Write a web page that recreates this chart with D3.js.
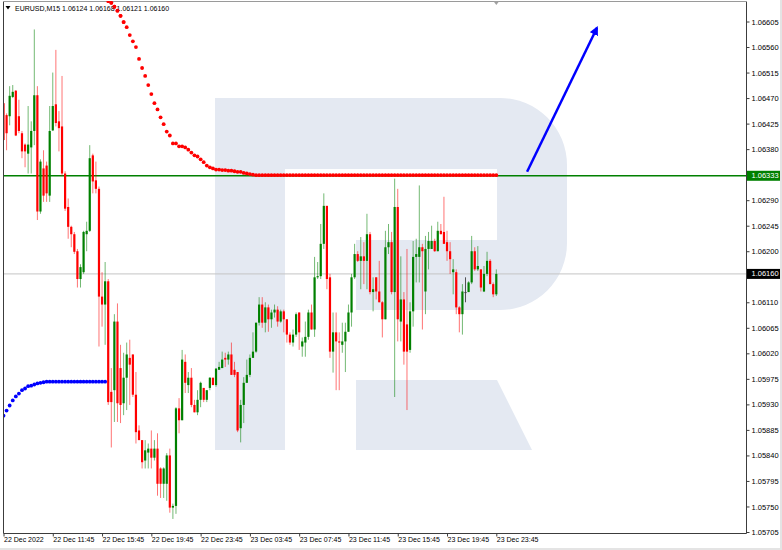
<!DOCTYPE html>
<html><head><meta charset="utf-8">
<script src="https://cdn.jsdelivr.net/npm/d3@7"></script>
<style>html,body{margin:0;padding:0;background:#fff;overflow:hidden}</style>
</head><body><svg id="c" width="782" height="550"></svg>
<script>
const symbol = "EURUSD,M15";
const tickLabels = ["22 Dec 2022","22 Dec 11:45","22 Dec 15:45","22 Dec 19:45","22 Dec 23:45","23 Dec 03:45","23 Dec 07:45","23 Dec 11:45","23 Dec 15:45","23 Dec 19:45","23 Dec 23:45"];
const tickIndex = [0,16,32,48,64,80,96,112,128,144,160];
const priceTicks = [1.06605,1.06560,1.06515,1.06470,1.06425,1.06380,1.06335,1.06290,1.06245,1.06200,1.06155,1.06110,1.06065,1.06020,1.05975,1.05930,1.05885,1.05840,1.05795,1.05750,1.05705];

const open = [
1.06461,1.06440,1.06438,1.06472,1.06483,1.06438,1.06408,1.06388,1.06372,1.06383,
1.06412,1.06475,1.06270,1.06346,1.06351,1.06298,1.06413,1.06459,1.06429,1.06420,
1.06337,1.06278,1.06243,1.06230,1.06200,1.06151,1.06163,1.06230,1.06236,1.06369,
1.06325,1.06310,1.06120,1.06106,1.06147,1.05952,1.05955,1.06076,1.05994,1.05932,
1.05977,1.06012,1.06018,1.05947,1.05884,1.05867,1.05831,1.05845,1.05852,1.05836,
1.05852,1.05817,1.05790,1.05790,1.05840,1.05748,1.05751,1.05923,1.05902,1.06005,
1.05964,1.05977,1.05929,1.05916,1.05938,1.05959,1.05938,1.05959,1.05977,1.05964,
1.05991,1.05994,1.06012,1.06009,1.06018,1.05991,1.05987,1.05888,1.05929,1.05968,
1.05982,1.06012,1.06023,1.06074,1.06106,1.06074,1.06101,1.06080,1.06092,1.06097,
1.06076,1.06094,1.06080,1.06053,1.06039,1.06053,1.06092,1.06032,1.06039,1.06049,
1.06092,1.06062,1.06154,1.06156,1.06213,1.06280,1.06154,1.06023,1.06057,1.06041,
1.06035,1.06041,1.06058,1.06092,1.06154,1.06195,1.06183,1.06191,1.06183,1.06230,
1.06128,1.06154,1.06129,1.06110,1.06080,1.06207,1.06216,1.06128,1.06278,1.06076,
1.06115,1.06071,1.06026,1.06094,1.06190,1.06190,1.06207,1.06129,1.06204,1.06204,
1.06218,1.06200,1.06236,1.06234,1.06216,1.06200,1.06163,1.06163,1.06101,1.06089,
1.06128,1.06128,1.06145,1.06200,1.06168,1.06168,1.06129,1.06160,1.06183,1.06142,
1.06124];
const high = [
1.06470,1.06443,1.06491,1.06493,1.06484,1.06467,1.06412,1.06390,1.06456,1.06429,
1.06591,1.06491,1.06362,1.06378,1.06358,1.06456,1.06515,1.06555,1.06447,1.06509,
1.06341,1.06293,1.06245,1.06234,1.06204,1.06177,1.06236,1.06252,1.06387,1.06372,
1.06358,1.06314,1.06163,1.06181,1.06151,1.05994,1.06089,1.06108,1.06035,1.06021,
1.06039,1.06044,1.06018,1.05987,1.05893,1.05867,1.05867,1.05861,1.05884,1.05867,
1.05879,1.05819,1.05819,1.05844,1.05852,1.05755,1.05925,1.05941,1.06026,1.06018,
1.05987,1.05994,1.05938,1.05955,1.05970,1.05959,1.05955,1.05978,1.05977,1.05994,
1.06005,1.06023,1.06021,1.06023,1.06039,1.06005,1.05987,1.05938,1.05978,1.06009,
1.06018,1.06057,1.06074,1.06119,1.06119,1.06110,1.06106,1.06097,1.06106,1.06103,
1.06097,1.06097,1.06080,1.06057,1.06062,1.06092,1.06092,1.06048,1.06076,1.06097,
1.06106,1.06190,1.06181,1.06248,1.06302,1.06280,1.06160,1.06092,1.06092,1.06057,
1.06074,1.06074,1.06106,1.06160,1.06213,1.06200,1.06225,1.06216,1.06266,1.06234,
1.06154,1.06154,1.06183,1.06112,1.06236,1.06248,1.06234,1.06328,1.06310,1.06191,
1.06128,1.06204,1.06110,1.06218,1.06222,1.06316,1.06213,1.06227,1.06234,1.06245,
1.06222,1.06252,1.06248,1.06296,1.06236,1.06216,1.06186,1.06168,1.06103,1.06142,
1.06154,1.06147,1.06227,1.06207,1.06209,1.06168,1.06174,1.06199,1.06186,1.06145,
1.06168];
const low = [
1.06390,1.06378,1.06422,1.06470,1.06403,1.06408,1.06364,1.06348,1.06337,1.06337,
1.06387,1.06255,1.06266,1.06287,1.06287,1.06287,1.06412,1.06420,1.06376,1.06333,
1.06271,1.06222,1.06207,1.06195,1.06136,1.06136,1.06160,1.06200,1.06234,1.06302,
1.06302,1.06032,1.06067,1.06035,1.05929,1.05854,1.05899,1.05899,1.05897,1.05911,
1.05920,1.05929,1.05943,1.05861,1.05867,1.05817,1.05817,1.05817,1.05817,1.05831,
1.05769,1.05765,1.05765,1.05760,1.05739,1.05728,1.05737,1.05879,1.05902,1.05950,
1.05950,1.05925,1.05916,1.05911,1.05925,1.05934,1.05934,1.05955,1.05964,1.05961,
1.05991,1.05994,1.05996,1.06000,1.05982,1.05978,1.05881,1.05863,1.05897,1.05968,
1.05978,1.06012,1.06021,1.06069,1.06065,1.06057,1.06058,1.06065,1.06083,1.06067,
1.06074,1.06057,1.06039,1.06035,1.06032,1.06049,1.06026,1.06014,1.06014,1.06044,
1.06062,1.06049,1.06151,1.06151,1.06204,1.06133,1.06012,1.05986,1.05955,1.05955,
1.06021,1.05987,1.06058,1.06067,1.06151,1.06181,1.06133,1.06142,1.06133,1.06124,
1.06094,1.06115,1.06110,1.06048,1.06080,1.06195,1.06124,1.05943,1.06041,1.06041,
1.06000,1.05920,1.06021,1.06067,1.06145,1.06145,1.06062,1.06089,1.06168,1.06204,
1.06199,1.06200,1.06230,1.06213,1.06183,1.06160,1.06124,1.06089,1.06057,1.06053,
1.06110,1.06128,1.06142,1.06165,1.06165,1.06129,1.06128,1.06156,1.06142,1.06119,
1.06121];
const close = [
1.06396,1.06408,1.06474,1.06481,1.06404,1.06412,1.06376,1.06376,1.06388,1.06412,
1.06475,1.06270,1.06358,1.06298,1.06302,1.06412,1.06456,1.06426,1.06417,1.06337,
1.06275,1.06243,1.06230,1.06199,1.06151,1.06172,1.06234,1.06236,1.06364,1.06323,
1.06310,1.06120,1.06106,1.06147,1.05934,1.05934,1.06076,1.05932,1.05929,1.05977,
1.06018,1.06000,1.05947,1.05881,1.05867,1.05828,1.05849,1.05852,1.05836,1.05852,
1.05790,1.05790,1.05817,1.05840,1.05748,1.05751,1.05923,1.05902,1.06009,1.05968,
1.05977,1.05929,1.05916,1.05938,1.05968,1.05938,1.05955,1.05977,1.05964,1.05993,
1.05996,1.06009,1.06009,1.06018,1.05982,1.05982,1.05884,1.05929,1.05968,1.05982,
1.06012,1.06023,1.06074,1.06106,1.06074,1.06101,1.06080,1.06092,1.06097,1.06076,
1.06094,1.06080,1.06053,1.06039,1.06053,1.06089,1.06057,1.06041,1.06049,1.06092,
1.06062,1.06154,1.06156,1.06213,1.06280,1.06151,1.06023,1.06057,1.06041,1.06039,
1.06041,1.06058,1.06092,1.06154,1.06195,1.06183,1.06191,1.06183,1.06230,1.06128,
1.06133,1.06129,1.06110,1.06080,1.06207,1.06216,1.06128,1.06278,1.06080,1.06115,
1.06023,1.06023,1.06094,1.06190,1.06195,1.06207,1.06200,1.06204,1.06218,1.06218,
1.06200,1.06236,1.06230,1.06213,1.06200,1.06186,1.06168,1.06101,1.06089,1.06129,
1.06128,1.06145,1.06200,1.06168,1.06174,1.06136,1.06160,1.06183,1.06142,1.06124,
1.06160];

// trailing-stop dots: blue below price for bars 0..33, red above price for bars 34..160
const sarBlueStart = 0;
const sarBlue = [
1.05910,1.05919,1.05928,1.05937,1.05944,1.05949,1.05955,1.05958,1.05962,1.05963,
1.05965,1.05967,1.05968,1.05969,1.05970,1.05970,1.05970,1.05970,1.05970,1.05970,
1.05970,1.05970,1.05970,1.05970,1.05970,1.05970,1.05970,1.05970,1.05970,1.05970,
1.05970,1.05970,1.05970,1.05970];
const sarRedStart = 34;
const sarRed = [
1.06641,1.06638,1.06631,1.06624,1.06615,1.06604,1.06595,1.06581,1.06570,1.06560,
1.06539,1.06523,1.06509,1.06493,1.06477,1.06461,1.06450,1.06436,1.06424,1.06411,
1.06404,1.06390,1.06390,1.06385,1.06385,1.06383,1.06379,1.06374,1.06369,1.06367,
1.06362,1.06357,1.06351,1.06348,1.06346,1.06344,1.06344,1.06343,1.06343,1.06342,
1.06342,1.06341,1.06340,1.06340,1.06338,1.06337,1.06336,1.06335,
1.06334,1.06334,1.06334,1.06334,1.06334,1.06334,1.06334,1.06334,1.06334,1.06334,
1.06334,1.06334,1.06334,1.06334,1.06334,1.06334,1.06334,1.06334,1.06334,1.06334,
1.06334,1.06334,1.06334,1.06334,1.06334,1.06334,1.06334,1.06334,1.06334,1.06334,
1.06334,1.06334,1.06334,1.06334,1.06334,1.06334,1.06334,1.06334,1.06334,1.06334,
1.06334,1.06334,1.06334,1.06334,1.06334,1.06334,1.06334,1.06334,1.06334,1.06334,
1.06334,1.06334,1.06334,1.06334,1.06334,1.06334,1.06334,1.06334,1.06334,1.06334,
1.06334,1.06334,1.06334,1.06334,1.06334,1.06334,1.06334,1.06334,1.06334,1.06334,
1.06334,1.06334,1.06334,1.06334,1.06334,1.06334,1.06334,1.06334,1.06334];

const levelLine = 1.06333;   // green horizontal line
const bidLevel = 1.06160;    // current price line
const arrowFrom = [170, 1.06340];
const arrowTo = [192.7, 1.06594];

// ---------- drawing ----------
const svg = d3.select("#c");
const L = 3, R = 746, T = 1, B = 533;
const x = d3.scaleLinear().domain([0, 160]).range([3.5, 496.3]);
const y = d3.scaleLinear().domain([1.05705, 1.06605]).range([532, 21.5]);
const font = "'Liberation Sans', Arial, sans-serif";

svg.append("rect").attr("width", 782).attr("height", 550).attr("fill", "#fff");
// window edges
svg.append("rect").attr("x", 780).attr("y", 0).attr("width", 2).attr("height", 550).attr("fill", "#e4e4e4");
svg.append("rect").attr("x", 0).attr("y", 548).attr("width", 782).attr("height", 2).attr("fill", "#e4e4e4");

const defs = svg.append("defs");
defs.append("clipPath").attr("id", "plot").append("rect")
  .attr("x", L).attr("y", T).attr("width", R - L).attr("height", B - T);
defs.append("marker").attr("id", "ah").attr("viewBox", "0 0 10 10")
  .attr("refX", 8).attr("refY", 5).attr("markerWidth", 3.6).attr("markerHeight", 3.6)
  .attr("orient", "auto").append("path").attr("d", "M0,0L10,5L0,10Z").attr("fill", "#0000ff");

const g = svg.append("g").attr("clip-path", "url(#plot)");

// watermark logo
g.append("path")
  .attr("d", "M215,98H500A67,67 0 0 1 567,165V243A67,67 0 0 1 500,310H356V240H497V169H285V450H215Z M356,380H497L532,450H356Z")
  .attr("fill", "#e4e9f2");

// bid line
g.append("line").attr("x1", L).attr("x2", R).attr("y1", y(bidLevel)).attr("y2", y(bidLevel))
  .attr("stroke", "#c4c4c4").attr("stroke-width", 1);
// green level
g.append("line").attr("x1", L).attr("x2", R).attr("y1", y(levelLine)).attr("y2", y(levelLine))
  .attr("stroke", "#008000").attr("stroke-width", 1.5);

const bars = d3.range(open.length).map(i => ({i, o: open[i], h: high[i], l: low[i], c: close[i]}));
const col = d => d.c > d.o ? "#008000" : (d.c < d.o ? "#ff0000" : "#404040");

g.append("g").selectAll("line").data(bars).join("line")
  .attr("x1", d => x(d.i)).attr("x2", d => x(d.i))
  .attr("y1", d => y(d.h)).attr("y2", d => y(d.l))
  .attr("stroke", col).attr("stroke-width", 1).attr("stroke-opacity", d => d.c === d.o ? 0.9 : 0.55);

g.append("g").selectAll("rect").data(bars).join("rect")
  .attr("x", d => x(d.i) - 1.1).attr("width", 2.2)
  .attr("y", d => y(Math.max(d.o, d.c)))
  .attr("height", d => Math.max(1, Math.abs(y(d.o) - y(d.c))))
  .attr("fill", col);

// dots
g.append("g").selectAll("circle").data(sarBlue).join("circle")
  .attr("cx", (d, k) => x(sarBlueStart + k)).attr("cy", d => y(d)).attr("r", 1.9).attr("fill", "#0000ff");
g.append("g").selectAll("circle").data(sarRed).join("circle")
  .attr("cx", (d, k) => x(sarRedStart + k)).attr("cy", d => y(d)).attr("r", 1.9).attr("fill", "#ff0000");

// arrow
g.append("line")
  .attr("x1", x(arrowFrom[0])).attr("y1", y(arrowFrom[1]))
  .attr("x2", x(arrowTo[0])).attr("y2", y(arrowTo[1]))
  .attr("stroke", "#0000ff").attr("stroke-width", 2.5).attr("marker-end", "url(#ah)");

// frame
svg.append("path").attr("d", `M${L+0.5},${T}V${B+0.5}H${R+0.5}V${T}`)
  .attr("fill", "none").attr("stroke", "#3c3c3c").attr("stroke-width", 1);
svg.append("line").attr("x1", L).attr("x2", R + 1).attr("y1", T + 0.5).attr("y2", T + 0.5)
  .attr("stroke", "#9a9a9a");

// chart shift marker
svg.append("path").attr("d", `M${x(160)-3},1H${x(160)+3}L${x(160)},5Z`).attr("fill", "#a0a0a0");

// header
svg.append("path").attr("d", "M5.5,6H10.5L8,9.5Z").attr("fill", "#000");
const last = open.length - 1;
const hdr = svg.append("text").attr("x", 15).attr("y", 10.5)
  .attr("font-family", font).attr("font-size", 7).attr("fill", "#000")
  .text(`${symbol}  ${open[last].toFixed(5)} ${high[last].toFixed(5)} ${low[last].toFixed(5)} ${close[last].toFixed(5)}`);
// red dots are drawn over the header in the original
svg.append("g").attr("clip-path", "url(#plot)").selectAll("circle").data(sarRed.slice(0, 6)).join("circle")
  .attr("cx", (d, k) => x(sarRedStart + k)).attr("cy", d => y(d)).attr("r", 1.9).attr("fill", "#ff0000");

// right price axis
const ya = svg.append("g").attr("transform", `translate(${R + 0.5},0)`)
  .call(d3.axisRight(y).tickValues(priceTicks).tickSize(3).tickFormat(d3.format(".5f")));
ya.select(".domain").remove();
ya.selectAll(".tick line").attr("stroke", "#3c3c3c");
ya.selectAll(".tick text").attr("font-family", font).attr("font-size", 7.5).attr("fill", "#000")
  .attr("x", 5).attr("dy", "0.34em")
  .attr("display", d => (Math.abs(y(d) - y(levelLine)) < 7 || Math.abs(y(d) - y(bidLevel)) < 7) ? "none" : null);

function priceBox(v, fill) {
  const yy = y(v);
  svg.append("rect").attr("x", R + 1).attr("y", yy - 5).attr("width", 33).attr("height", 10).attr("fill", fill);
  svg.append("text").attr("x", R + 5.5).attr("y", yy).attr("dy", "0.34em")
    .attr("font-family", font).attr("font-size", 7.5).attr("fill", "#fff").text(v.toFixed(5));
}
priceBox(levelLine, "#008000");
priceBox(bidLevel, "#000000");

// bottom time axis
const xa = svg.append("g").attr("transform", `translate(0,${B + 0.5})`)
  .call(d3.axisBottom(x).tickValues(tickIndex).tickSize(3).tickFormat((d, k) => tickLabels[k]));
xa.select(".domain").remove();
xa.selectAll(".tick line").attr("stroke", "#3c3c3c");
xa.selectAll(".tick text").attr("font-family", font).attr("font-size", 7).attr("fill", "#000")
  .attr("text-anchor", "start").attr("x", 0).attr("y", 4).attr("dy", "0.71em");
</script>
</body></html>
